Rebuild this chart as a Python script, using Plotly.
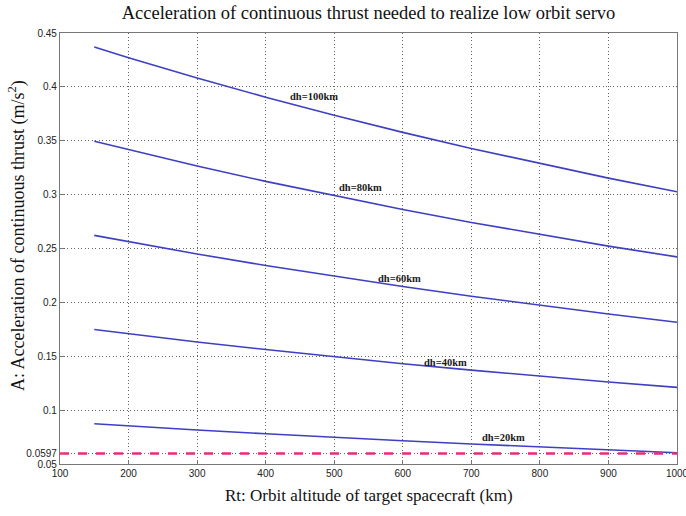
import plotly.graph_objects as go

altitude_km = [150, 200, 300, 400, 500, 600, 700, 800, 900, 1000]
acc_dh100 = [0.4370, 0.4271, 0.4082, 0.3904, 0.3736, 0.3578, 0.3428, 0.3287, 0.3153, 0.3027]
acc_dh80 = [0.3496, 0.3417, 0.3266, 0.3123, 0.2989, 0.2862, 0.2742, 0.2630, 0.2522, 0.2422]
acc_dh60 = [0.2622, 0.2563, 0.2449, 0.2342, 0.2242, 0.2147, 0.2057, 0.1972, 0.1892, 0.1816]
acc_dh40 = [0.1748, 0.1708, 0.1633, 0.1562, 0.1494, 0.1431, 0.1371, 0.1315, 0.1261, 0.1211]
acc_dh20 = [0.0874, 0.0854, 0.0816, 0.0781, 0.0747, 0.0716, 0.0686, 0.0657, 0.0631, 0.0605]
threshold = 0.0597
x_range = [100, 1000]

series = [acc_dh100, acc_dh80, acc_dh60, acc_dh40, acc_dh20]
label_text = ["dh=100km", "dh=80km", "dh=60km", "dh=40km", "dh=20km"]
label_x = [471, 538, 595, 662, 747]
label_y = [0.3915, 0.307, 0.2218, 0.1442, 0.0743]

x_ticks = [100, 200, 300, 400, 500, 600, 700, 800, 900, 1000]
x_ticklabels = ["100", "200", "300", "400", "500", "600", "700", "800", "900", "1000"]
y_ticks = [0.05, 0.0597, 0.1, 0.15, 0.2, 0.25, 0.3, 0.35, 0.4, 0.45]
y_ticklabels = ["0.05", "0.0597", "0.1", "0.15", "0.2", "0.25", "0.3", "0.35", "0.4", "0.45"]

fig = go.Figure()
for s in series:
    fig.add_trace(go.Scatter(x=altitude_km, y=s, mode="lines",
                             line=dict(color="#3f3fc4", width=1.6),
                             showlegend=False, hoverinfo="skip"))
fig.add_trace(go.Scatter(x=x_range, y=[threshold, threshold], mode="lines",
                         line=dict(color="#f0287a", width=2.6, dash="dash"),
                         showlegend=False, hoverinfo="skip"))

serif = "Liberation Serif, Times New Roman, serif"
for t, x, y in zip(label_text, label_x, label_y):
    fig.add_annotation(x=x, y=y, text="<b>" + t + "</b>", showarrow=False,
                       font=dict(family=serif, size=10.5, color="#1a1a1a"))

fig.add_annotation(xref="paper", yref="paper", x=0.5, y=0, yshift=-31,
                   text="Rt: Orbit altitude of target spacecraft (km)", showarrow=False,
                   yanchor="middle", font=dict(family=serif, size=17, color="#111"))
fig.add_annotation(xref="paper", yref="paper", x=0, y=0.529, xshift=-43,
                   text="A: Acceleration of continuous thrust (m/s<sup>2</sup>)", showarrow=False,
                   textangle=-90, xanchor="center", yanchor="middle",
                   font=dict(family=serif, size=18, color="#111"))

grid_style = dict(showgrid=True, gridcolor="#666", griddash="1px,2.5px", gridwidth=1,
                  showline=True, linecolor="#777", linewidth=1.2, mirror=True,
                  ticks="inside", ticklen=4, tickcolor="#777", zeroline=False,
                  ticklabeloverflow="allow", automargin=False,
                  tickfont=dict(family="Liberation Sans", size=10, color="#222"))

fig.update_layout(
    width=686, height=516,
    margin=dict(l=60, r=9, t=33, b=52),
    paper_bgcolor="white", plot_bgcolor="white",
    title=dict(text="Acceleration of continuous thrust needed to realize low orbit servo",
               x=0.5, xref="paper", xanchor="center", y=1 - 13 / 516, yanchor="middle",
               yref="container",
               font=dict(family=serif, size=18.5, color="#111")),
    xaxis=dict(range=x_range, tickvals=x_ticks, ticktext=x_ticklabels, **grid_style),
    yaxis=dict(range=[0.05, 0.45], tickvals=y_ticks, ticktext=y_ticklabels, **grid_style),
)

fig.write_html("out.html")
